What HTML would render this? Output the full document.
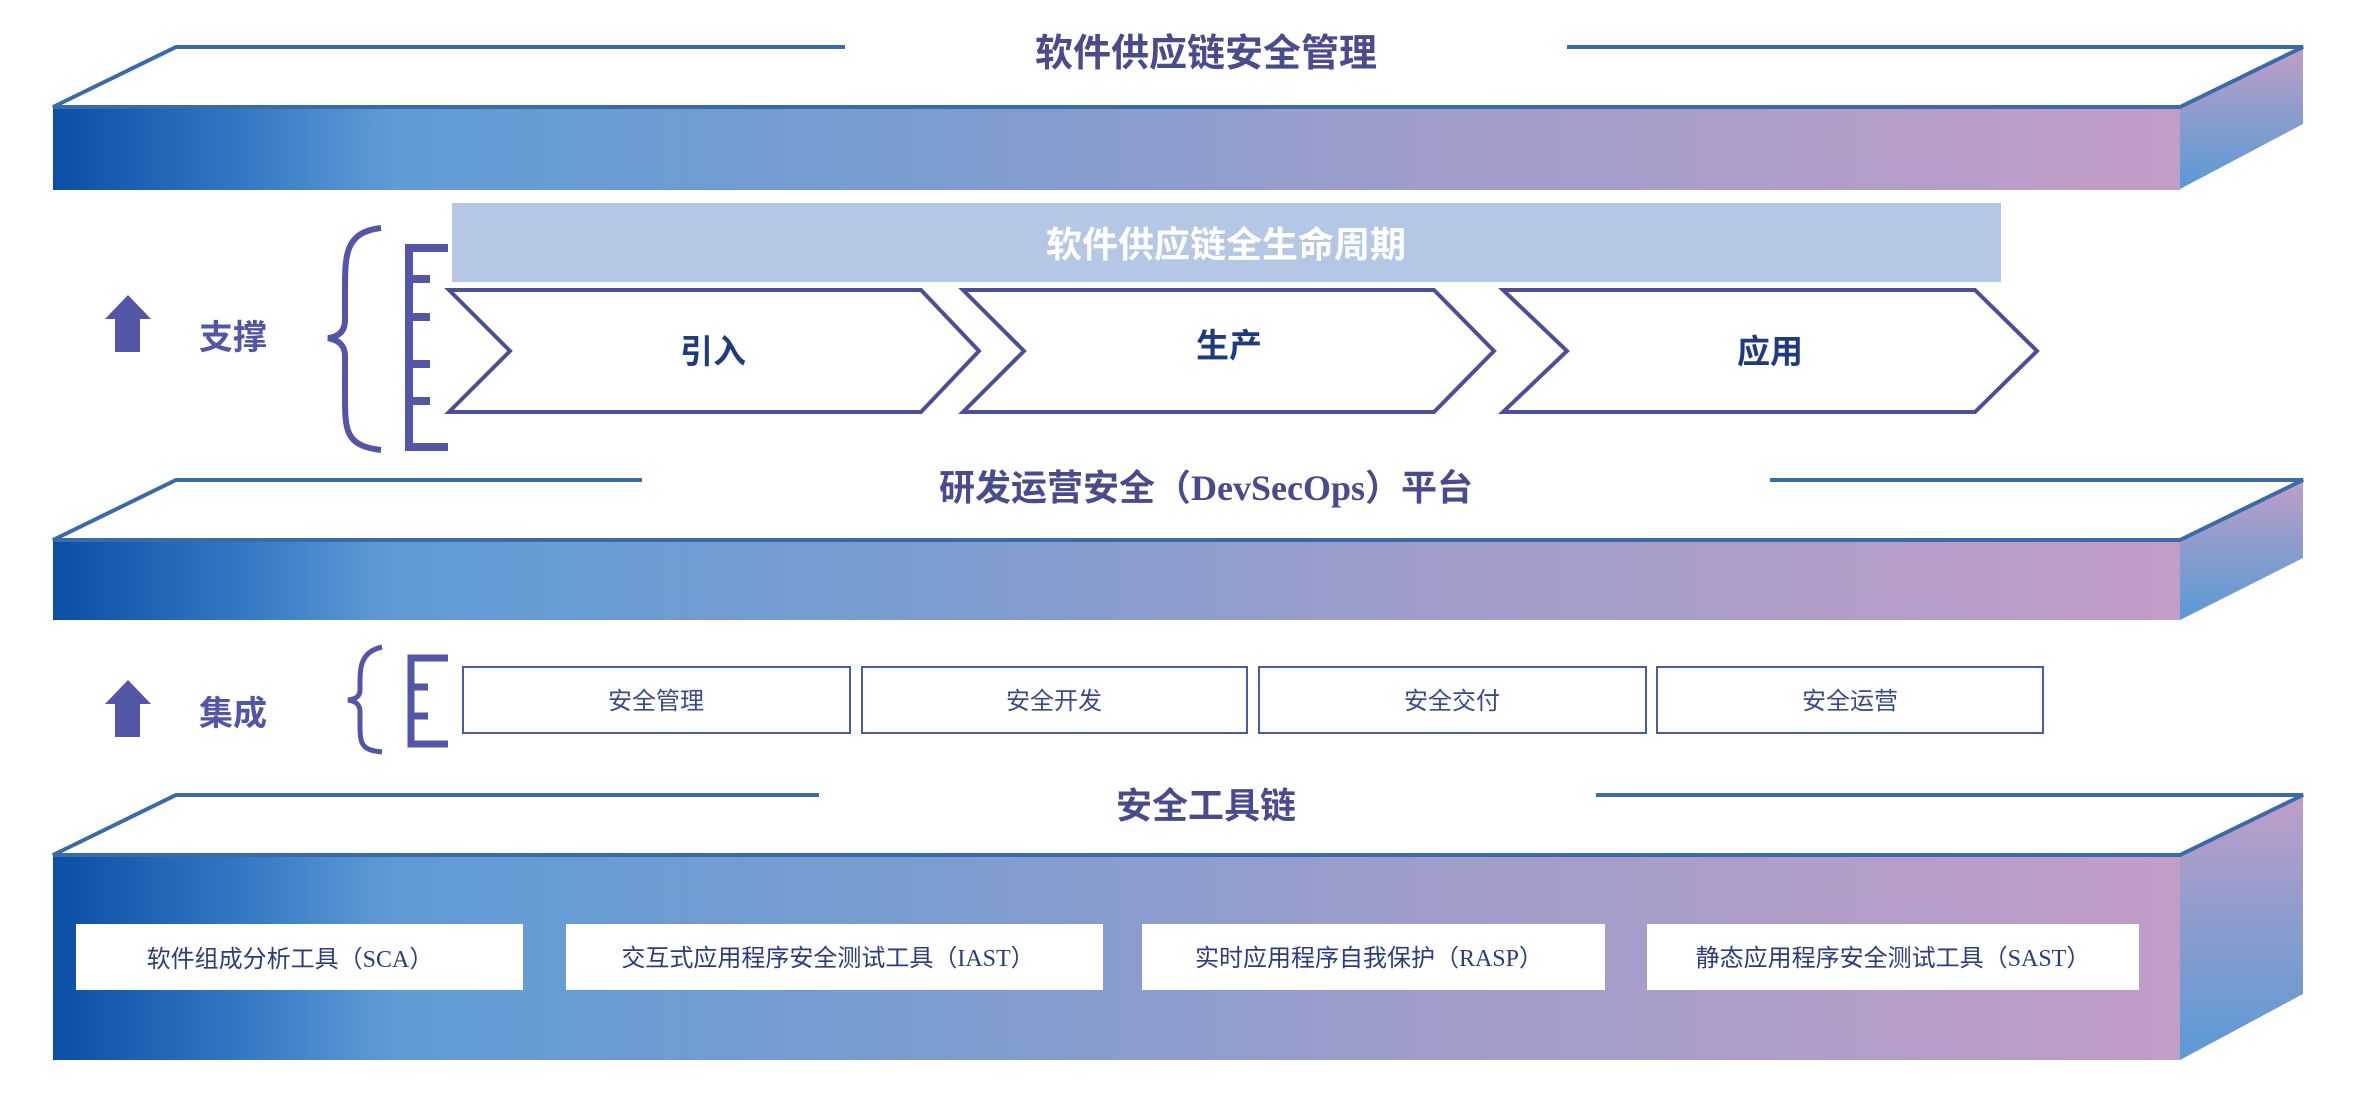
<!DOCTYPE html>
<html><head><meta charset="utf-8"><style>
html,body{margin:0;padding:0;background:#fff;}
svg{display:block;}
text{font-family:"Liberation Sans","Noto Sans CJK SC",sans-serif;}
</style></head><body>
<svg width="2378" height="1094" viewBox="0 0 2378 1094" xmlns="http://www.w3.org/2000/svg">
<defs>
<linearGradient id="fg" x1="0" x2="1" y1="0" y2="0">
<stop offset="0" stop-color="#0a4ea6"/>
<stop offset="0.08" stop-color="#2f74c0"/>
<stop offset="0.16" stop-color="#5f9bd6"/>
<stop offset="0.4" stop-color="#7a9dd0"/>
<stop offset="0.65" stop-color="#9f9dcb"/>
<stop offset="1" stop-color="#c29dc8"/>
</linearGradient>
<linearGradient id="sg" x1="0" x2="0" y1="0" y2="1">
<stop offset="0" stop-color="#c09ec8"/>
<stop offset="0.5" stop-color="#8a9ccd"/>
<stop offset="1" stop-color="#5a9ad6"/>
</linearGradient>
</defs>

<!-- Slab 1 -->
<rect x="53" y="107" width="2127" height="83" fill="url(#fg)"/>
<polygon points="2180,107 2303,47 2303,124 2180,189" fill="url(#sg)"/>
<polyline points="845,47 176,47 53,107 2180,107 2303,47 1567,47" fill="none" stroke="#3a6aa8" stroke-width="4"/>
<text x="1206" y="66" text-anchor="middle" font-size="38" font-weight="bold" fill="#4a4a8e">软件供应链安全管理</text>

<!-- Lifecycle -->
<rect x="452" y="203" width="1549" height="79" fill="#b4c8e6"/>
<text x="1226" y="257" text-anchor="middle" font-size="36" font-weight="bold" fill="#ffffff">软件供应链全生命周期</text>

<g fill="#fff" stroke="#4e4e98" stroke-width="4">
<polygon points="449,290 921,290 979,351 921,412 449,412 510,351"/>
<polygon points="963,290 1434,290 1494,351 1434,412 963,412 1024,351"/>
<polygon points="1503,290 1975,290 2037,351 1975,412 1503,412 1567,351"/>
</g>
<g font-size="33" font-weight="bold" fill="#1f3a80" text-anchor="middle">
<text x="713" y="363">引入</text>
<text x="1229" y="357">生产</text>
<text x="1770" y="363">应用</text>
</g>

<!-- Support -->
<g fill="#5356a6">
<polygon points="105,319 128,295 151,319 140,319 140,352 115,352 115,319"/>
</g>
<text x="233" y="349" text-anchor="middle" font-size="34" font-weight="bold" fill="#5356a6">支撑</text>
<path d="M381,228 C345,232 345,255 345,290 L345,320 C345,332 338,337 328,338 C338,340 345,345 345,356 L345,395 C345,430 345,446 381,450" fill="none" stroke="#5356a6" stroke-width="6"/>
<g stroke="#5356a6" fill="none">
<path d="M448,248 L409,248 L409,447 L448,447" stroke-width="8"/>
<path d="M409,279 L430,279 M409,317 L430,317 M409,364 L430,364 M409,401 L430,401" stroke-width="8"/>
</g>

<!-- Slab 2 -->
<rect x="53" y="540" width="2127" height="80" fill="url(#fg)"/>
<polygon points="2180,540 2303,480 2303,558 2180,620" fill="url(#sg)"/>
<polyline points="642,480 176,480 53,540 2180,540 2303,480 1770,480" fill="none" stroke="#3a6aa8" stroke-width="4"/>
<text x="1206" y="500" text-anchor="middle" font-size="36" font-weight="bold" fill="#4a4a8e">研发运营安全（<tspan font-family="Liberation Serif, serif">DevSecOps</tspan>）平台</text>

<!-- Integrate -->
<polygon points="105,704 128,680 151,704 140,704 140,737 115,737 115,704" fill="#5356a6"/>
<text x="233" y="725" text-anchor="middle" font-size="34" font-weight="bold" fill="#5356a6">集成</text>
<path d="M382,647 C360,652 360,668 360,685 L360,690 C360,697 355,699 348,700 C355,701 360,704 360,712 L360,725 C360,745 362,750 382,752" fill="none" stroke="#5356a6" stroke-width="5"/>
<g stroke="#5356a6" fill="none" stroke-width="7">
<path d="M448,658 L411,658 L411,744 L448,744 M411,687 L428,687 M411,716 L428,716"/>
</g>
<g fill="#fff" stroke="#4a5aa6" stroke-width="2">
<rect x="463" y="667" width="387" height="66"/>
<rect x="862" y="667" width="385" height="66"/>
<rect x="1259" y="667" width="387" height="66"/>
<rect x="1657" y="667" width="386" height="66"/>
</g>
<g font-size="24" fill="#3a4a8e" text-anchor="middle">
<text x="656" y="709">安全管理</text>
<text x="1054" y="709">安全开发</text>
<text x="1452" y="709">安全交付</text>
<text x="1850" y="709">安全运营</text>
</g>

<!-- Slab 3 -->
<rect x="53" y="855" width="2127" height="205" fill="url(#fg)"/>
<polygon points="2180,855 2303,795 2303,994 2180,1060" fill="url(#sg)"/>
<polyline points="819,795 176,795 53,855 2180,855 2303,795 1596,795" fill="none" stroke="#3a6aa8" stroke-width="4"/>
<text x="1206" y="818" text-anchor="middle" font-size="36" font-weight="bold" fill="#4a4a8e">安全工具链</text>
<g fill="#fff">
<rect x="76" y="924" width="447" height="66"/>
<rect x="566" y="924" width="537" height="66"/>
<rect x="1142" y="924" width="463" height="66"/>
<rect x="1647" y="924" width="492" height="66"/>
</g>
<g font-size="24" fill="#2c3c80" text-anchor="middle">
<text x="290" y="967">软件组成分析工具（<tspan font-family="Liberation Serif, serif">SCA</tspan>）</text>
<text x="828" y="966">交互式应用程序安全测试工具（<tspan font-family="Liberation Serif, serif">IAST</tspan>）</text>
<text x="1369" y="966">实时应用程序自我保护（<tspan font-family="Liberation Serif, serif">RASP</tspan>）</text>
<text x="1893" y="966">静态应用程序安全测试工具（<tspan font-family="Liberation Serif, serif">SAST</tspan>）</text>
</g>
</svg>
</body></html>
